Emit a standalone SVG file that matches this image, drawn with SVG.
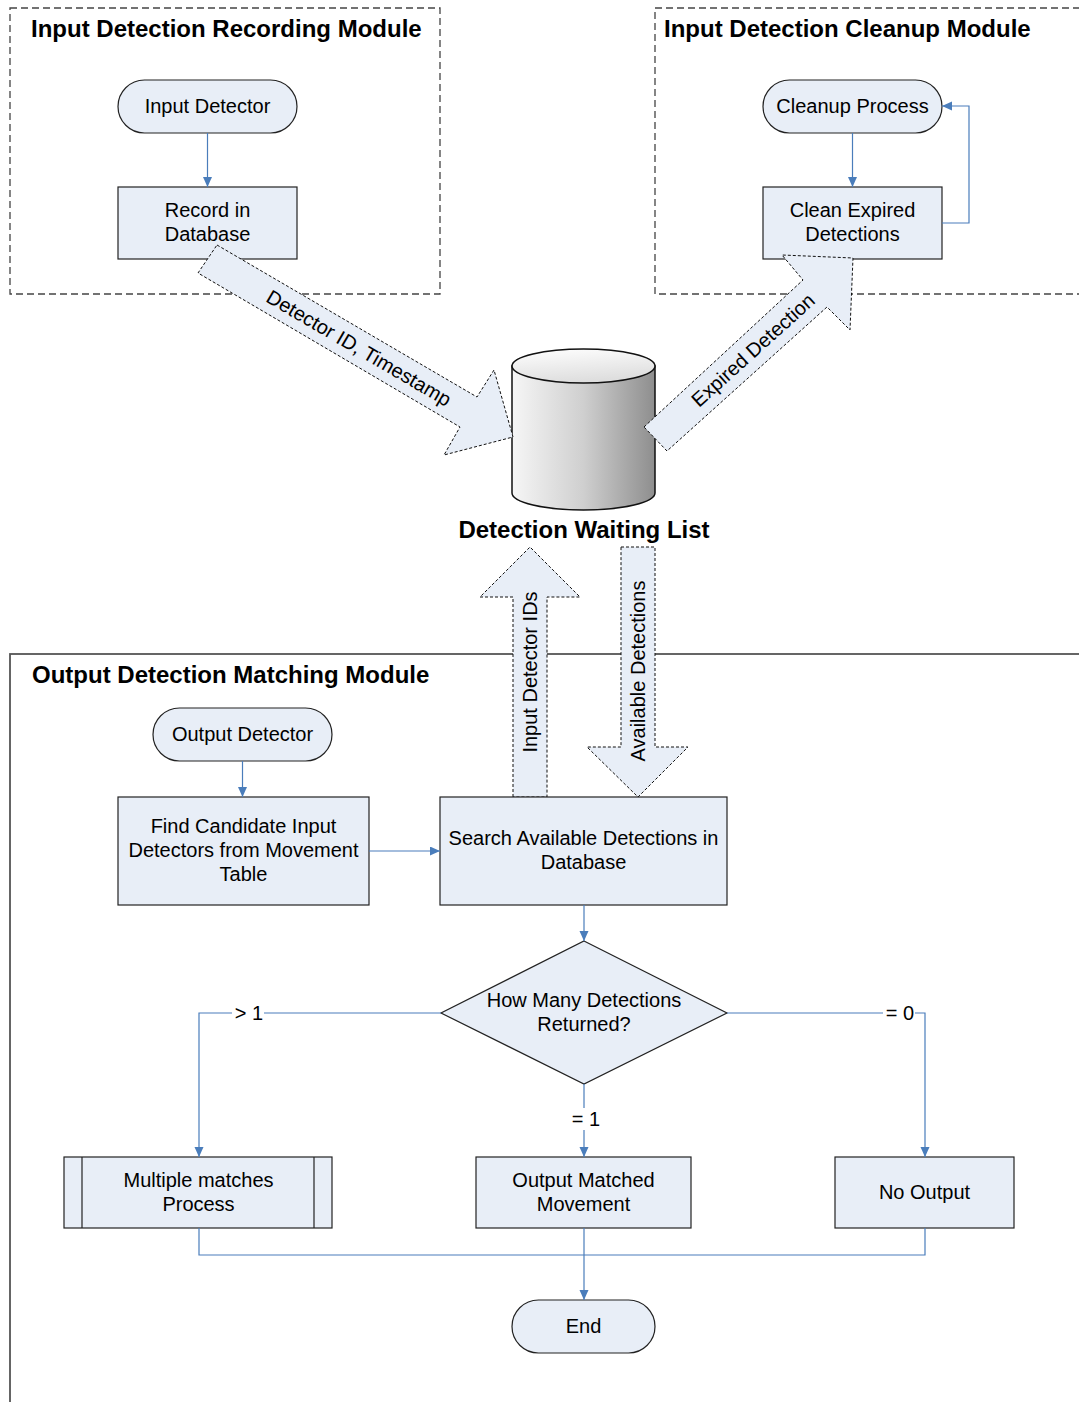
<svg xmlns="http://www.w3.org/2000/svg" width="1079" height="1402" viewBox="0 0 1079 1402">
<style>
text{font-family:"Liberation Sans",Arial,sans-serif;font-size:20px;fill:#000}
.t{font-weight:bold;font-size:24px}
.c{text-anchor:middle}
.n{fill:#e8eef7;stroke:#222;stroke-width:1.2}
.mod{fill:none;stroke:#444;stroke-width:1.3;stroke-dasharray:7,4}
.big{fill:#e8eef7;stroke:#111;stroke-width:1;stroke-dasharray:3,2}
.con{fill:none;stroke:#4a7dbb;stroke-width:1.2}
.lbl{fill:#fff}
</style>
<defs>
<marker id="ah" markerUnits="userSpaceOnUse" markerWidth="11" markerHeight="10" refX="10" refY="4.5" orient="auto">
<path d="M0,0 L10,4.5 L0,9 z" fill="#4a7dbb"/>
</marker>
<linearGradient id="body" x1="0" y1="0" x2="1" y2="0">
<stop offset="0" stop-color="#f6f6f6"/>
<stop offset="0.5" stop-color="#cfcfcf"/>
<stop offset="1" stop-color="#8e8e8e"/>
</linearGradient>
<linearGradient id="top" x1="0" y1="0" x2="0.3" y2="1">
<stop offset="0" stop-color="#ffffff"/>
<stop offset="1" stop-color="#dedede"/>
</linearGradient>
</defs>

<g id="module-recording">
<rect class="mod" x="10" y="8" width="430" height="286"/>
<text class="t" x="31" y="37">Input Detection Recording Module</text>
</g>
<g id="module-cleanup">
<rect class="mod" x="655" y="8" width="440" height="286"/>
<text class="t" x="664" y="37">Input Detection Cleanup Module</text>
</g>
<g id="module-matching">
<rect x="10" y="654" width="1100" height="800" fill="none" stroke="#555" stroke-width="1.8"/>
<text class="t" x="32" y="683">Output Detection Matching Module</text>
</g>

<g id="input-detector">
<rect class="n" x="118" y="80" width="179" height="53" rx="26.5"/>
<text class="c" x="207.5" y="113">Input Detector</text>
</g>
<g id="record-db">
<rect class="n" x="118" y="187" width="179" height="72"/>
<text class="c" x="207.5" y="217">Record in</text>
<text class="c" x="207.5" y="241">Database</text>
</g>
<g id="cleanup-process">
<rect class="n" x="763" y="80" width="179" height="53" rx="26.5"/>
<text class="c" x="852.5" y="113">Cleanup Process</text>
</g>
<g id="clean-expired">
<rect class="n" x="763" y="187" width="179" height="72"/>
<text class="c" x="852.5" y="217">Clean Expired</text>
<text class="c" x="852.5" y="241">Detections</text>
</g>

<g id="waiting-list">
<path d="M512,366 L512,493 A71.5,17 0 0 0 655,493 L655,366 Z" fill="url(#body)" stroke="#111" stroke-width="1.5"/>
<ellipse cx="583.5" cy="366" rx="71.5" ry="17" fill="url(#top)" stroke="#111" stroke-width="1.5"/>
</g>

<g id="big-arrows">
<g id="arrow-detector-id">
<polygon class="big" points="217,245 477,397 494,370 513,437 444,455 460,427 198,273"/>
<text class="c" transform="translate(359,348) rotate(30.3)" x="0" y="7">Detector ID, Timestamp</text>
</g>
<g id="arrow-expired">
<polygon class="big" points="644,427 803,280 782,255 853,258 850,330 827,307 667,451"/>
<text class="c" transform="translate(753,350) rotate(-42)" x="0" y="7">Expired Detection</text>
</g>
<g id="arrow-input-ids">
<polygon class="big" points="513,797 513,597 480,597 530,547 580,597 547,597 547,797"/>
<text class="c" transform="translate(530,672) rotate(-90)" x="0" y="7">Input Detector IDs</text>
</g>
<g id="arrow-available">
<polygon class="big" points="621,547 655,547 655,747 688,747 638,797 587,747 621,747"/>
<text class="c" transform="translate(638,671) rotate(-90)" x="0" y="7">Available Detections</text>
</g>
</g>

<text class="t c" x="584" y="538">Detection Waiting List</text>

<g id="output-detector">
<rect class="n" x="153" y="708" width="179" height="53" rx="26.5"/>
<text class="c" x="242.5" y="741">Output Detector</text>
</g>
<g id="find-candidate">
<rect class="n" x="118" y="797" width="251" height="108"/>
<text class="c" x="243.5" y="833">Find Candidate Input</text>
<text class="c" x="243.5" y="857">Detectors from Movement</text>
<text class="c" x="243.5" y="881">Table</text>
</g>
<g id="search-available">
<rect class="n" x="440" y="797" width="287" height="108"/>
<text class="c" x="583.5" y="845">Search Available Detections in</text>
<text class="c" x="583.5" y="869">Database</text>
</g>
<g id="how-many">
<polygon class="n" points="584,941 727,1013 584,1084 441,1013"/>
<text class="c" x="584" y="1007">How Many Detections</text>
<text class="c" x="584" y="1031">Returned?</text>
</g>
<g id="multiple-matches">
<rect class="n" x="64" y="1157" width="268" height="71"/>
<line x1="82" y1="1157" x2="82" y2="1228" stroke="#222" stroke-width="1.2"/>
<line x1="314" y1="1157" x2="314" y2="1228" stroke="#222" stroke-width="1.2"/>
<text class="c" x="198.5" y="1187">Multiple matches</text>
<text class="c" x="198.5" y="1211">Process</text>
</g>
<g id="output-matched">
<rect class="n" x="476" y="1157" width="215" height="71"/>
<text class="c" x="583.5" y="1187">Output Matched</text>
<text class="c" x="583.5" y="1211">Movement</text>
</g>
<g id="no-output">
<rect class="n" x="835" y="1157" width="179" height="71"/>
<text class="c" x="924.5" y="1199">No Output</text>
</g>
<g id="end">
<rect class="n" x="512" y="1300" width="143" height="53" rx="26.5"/>
<text class="c" x="583.5" y="1333">End</text>
</g>

<g id="connectors">
<path class="con" d="M207.5,133 V187" marker-end="url(#ah)"/>
<path class="con" d="M852.5,133 V187" marker-end="url(#ah)"/>
<path class="con" d="M942,223 H969 V106 H942" marker-end="url(#ah)"/>
<path class="con" d="M242.5,761 V797" marker-end="url(#ah)"/>
<path class="con" d="M369,851 H440" marker-end="url(#ah)"/>
<path class="con" d="M584,905 V941" marker-end="url(#ah)"/>
<path class="con" d="M441,1013 H199 V1157" marker-end="url(#ah)"/>
<path class="con" d="M727,1013 H925 V1157" marker-end="url(#ah)"/>
<path class="con" d="M584,1084 V1157" marker-end="url(#ah)"/>
<path class="con" d="M199,1228 V1255 H925 V1228"/>
<path class="con" d="M584,1228 V1300" marker-end="url(#ah)"/>
<rect class="lbl" x="232" y="1002" width="32" height="22"/>
<text class="c" x="249" y="1020">&gt; 1</text>
<rect class="lbl" x="883" y="1002" width="32" height="22"/>
<text class="c" x="900" y="1020">= 0</text>
<rect class="lbl" x="569" y="1108" width="32" height="22"/>
<text class="c" x="586" y="1126">= 1</text>
</g>
</svg>
